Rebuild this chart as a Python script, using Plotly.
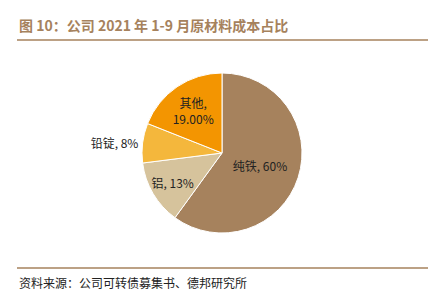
import plotly.graph_objects as go

categories = ["纯铁", "铝", "铅锭", "其他"]
values = [60, 13, 8, 19]
pct_labels = ["60%", "13%", "8%", "19.00%"]
colors = ["#A6825D", "#D6C39C", "#F4B73C", "#F39501"]
title = "图 10：公司 2021 年 1-9 月原材料成本占比"
source = "资料来源：公司可转债募集书、德邦研究所"

texts = []
for c, p in zip(categories, pct_labels):
    sep = ",<br>" if c == "其他" else ", "
    texts.append(c + sep + p)

W, H = 437, 305
cx, cy, r = 222, 153, 80

fig = go.Figure(go.Pie(
    labels=categories, values=values, text=texts,
    textinfo="text", sort=False, direction="clockwise", rotation=0,
    marker=dict(colors=colors, line=dict(color="white", width=1)),
    textposition=["inside", "inside", "outside", "inside"],
    insidetextorientation="horizontal",
    textfont=dict(family="Noto Sans CJK SC", size=12, color="#222222"),
    outsidetextfont=dict(family="Noto Sans CJK SC", size=12, color="#222222"),
    showlegend=False, hoverinfo="label+percent",
    domain=dict(x=[(cx - r) / W, (cx + r) / W], y=[1 - (cy + r) / H, 1 - (cy - r) / H]),
))

fig.update_layout(
    width=W, height=H, margin=dict(l=0, r=0, t=0, b=0),
    paper_bgcolor="white", plot_bgcolor="white",
    shapes=[
        dict(type="line", xref="paper", yref="paper", x0=17 / W, x1=428 / W,
             y0=1 - 40 / H, y1=1 - 40 / H, line=dict(color="#A6825D", width=1.5)),
        dict(type="line", xref="paper", yref="paper", x0=17 / W, x1=428 / W,
             y0=1 - 268 / H, y1=1 - 268 / H, line=dict(color="#A6825D", width=1.5)),
    ],
    annotations=[
        dict(text="<b>" + title + "</b>", xref="paper", yref="paper", x=17 / W, y=1 - 25 / H,
             xanchor="left", yanchor="middle", showarrow=False,
             font=dict(family="Noto Sans CJK SC", size=14, color="#A6825D")),
        dict(text=source, xref="paper", yref="paper", x=17 / W, y=1 - 282 / H,
             xanchor="left", yanchor="middle", showarrow=False,
             font=dict(family="Noto Sans CJK SC", size=12, color="#222222")),
    ],
)

fig.write_html("out.html")
